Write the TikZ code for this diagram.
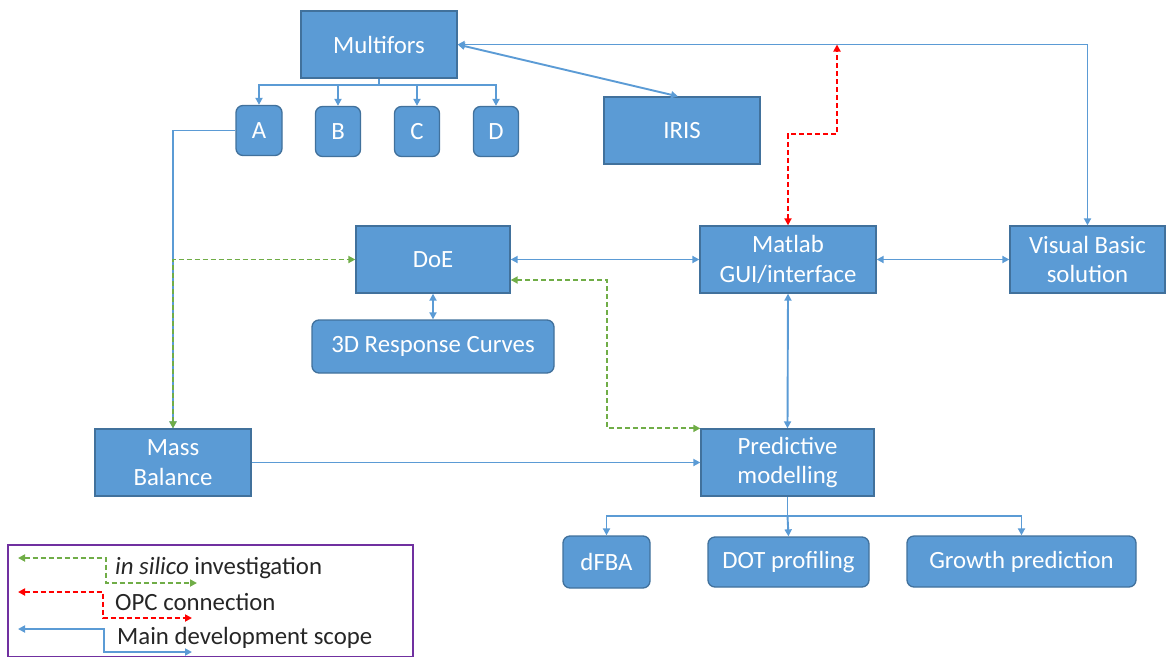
\documentclass[tikz,border=0pt]{standalone}
\usepackage{fontspec}
\setmainfont{Carlito}
\usetikzlibrary{arrows.meta,calc}
\definecolor{boxfill}{HTML}{5B9BD5}
\definecolor{boxline}{HTML}{41719C}
\definecolor{lineblue}{HTML}{5B9BD5}
\definecolor{linegreen}{HTML}{70AD47}
\definecolor{linered}{HTML}{FF0000}
\definecolor{legpurple}{HTML}{7030A0}
\definecolor{legtext}{HTML}{262626}
\begin{document}
\begin{tikzpicture}[x=1pt,y=-1pt,
  box/.style={draw=boxline, fill=boxfill, line width=1.3pt, text=white, inner sep=0pt, align=center, font=\fontsize{24.8}{29.5}\selectfont},
  rbox/.style={box, rounded corners=7pt},
  bl/.style={draw=lineblue, line width=1.9pt},
  gl/.style={draw=linegreen, line width=1.9pt, dash pattern=on 5pt off 3pt},
  rl/.style={draw=linered, line width=1.9pt, dash pattern=on 5pt off 3pt},
  legtxt/.style={anchor=west, inner sep=0pt, text=legtext, font=\fontsize{24.8}{29.5}\selectfont},
  >={Triangle[length=7pt,width=7pt]}
]
\useasboundingbox (0,0) rectangle (1168,657);

% nodes
\node[box, minimum width=156pt, minimum height=67pt] (multi) at (379,44.5) {Multifors};
\node[rbox, minimum width=46pt, minimum height=50pt] (A) at (259,130.5) {A};
\node[rbox, minimum width=45pt, minimum height=50pt] (B) at (338,131.5) {B};
\node[rbox, minimum width=45pt, minimum height=50pt] (C) at (417,131.5) {C};
\node[rbox, minimum width=45pt, minimum height=50pt] (D) at (496,131.5) {D};
\node[box, minimum width=156pt, minimum height=67pt] (iris) at (682,130.5) {IRIS};
\node[box, minimum width=154pt, minimum height=67pt] (doe) at (433,259.5) {DoE};
\node[box, minimum width=176pt, minimum height=67pt] (matlab) at (788,259.5) {Matlab\\GUI/interface};
\node[box, minimum width=155pt, minimum height=67pt] (vb) at (1087.5,259.5) {Visual Basic\\solution};
\node[rbox, minimum width=242pt, minimum height=53pt] (curves) at (433,346.5) {3D Response Curves};
\node[box, minimum width=156pt, minimum height=67pt] (mass) at (173,462.5) {Mass\\Balance};
\node[box, minimum width=173pt, minimum height=67pt] (pred) at (787.5,462.5) {Predictive\\modelling};
\node[rbox, minimum width=87pt, minimum height=52pt] (dfba) at (606.5,562) {dFBA};
\node[rbox, minimum width=161pt, minimum height=50pt] (dot) at (788.5,562) {DOT profiling};
\node[rbox, minimum width=229pt, minimum height=51pt] (growth) at (1021.5,561.5) {Growth prediction};

% Multifors tree
\coordinate (bus) at (379,85);
\draw[bl] (multi.south) -- (bus);
\draw[bl,->] (bus) -| (A.north);
\draw[bl,->] (bus) -| (B.north);
\draw[bl,->] (bus) -| (C.north);
\draw[bl,->] (bus) -| (D.north);

% Multifors links
\draw[bl,<->] (multi.east) -| (vb.north);
\draw[bl,<->] (multi.east) -- ([xshift=-4pt]iris.north);

% OPC connection
\coordinate (redmid) at (837,134);
\coordinate (redtop) at (837,44.5);
\draw[rl,<->] (matlab.north) |- (redmid) -- (redtop);

% A to Mass Balance
\draw[bl,->] (A.west) -| (mass.north);
\draw[gl,<->] (mass.north) |- (doe.west);

% main links
\draw[bl,<->] (doe.east) -- (matlab.west);
\draw[bl,<->] (matlab.east) -- (vb.west);
\draw[bl,<->] (doe.south) -- (curves.north);
\draw[bl,<->] (matlab.south) -- (pred.north);
\draw[bl,->] (mass.east) -- (pred.west);

% in silico DoE - Predictive
\coordinate (gturn) at (607,280);
\draw[gl,<->] ($(doe.east)+(0,20.5)$) -- (gturn) |- (pred.north west);

% Predictive tree
\coordinate (pbus) at (787.5,516);
\draw[bl] (pred.south) -- (pbus);
\draw[bl,->] (pbus) -| (dfba.north);
\draw[bl,->] (pbus) -- (dot.north);
\draw[bl,->] (pbus) -| (growth.north);

% legend
\node[draw=legpurple, line width=1.5pt, minimum width=405pt, minimum height=111.5pt, inner sep=0pt] (legend) at (210.5,600.75) {};
\coordinate (g1s) at (18,558);
\coordinate (g1k) at (106,583);
\coordinate (g1e) at (197,583);
\draw[gl,<->] (g1s) -| (g1k) -- (g1e);
\coordinate (r1s) at (18,592);
\coordinate (r1k) at (103,618);
\coordinate (r1e) at (192,618);
\draw[rl,<->] (r1s) -| (r1k) -- (r1e);
\coordinate (b1s) at (18,629);
\coordinate (b1k) at (104,652);
\coordinate (b1e) at (192,652);
\draw[bl,<->] (b1s) -| (b1k) -- (b1e);
\node[legtxt] (lg1) at (115,568) {\textit{in silico} investigation};
\node[legtxt] (lg2) at (115,602) {OPC connection};
\node[legtxt] (lg3) at (117,638) {Main development scope};
\end{tikzpicture}
\end{document}
